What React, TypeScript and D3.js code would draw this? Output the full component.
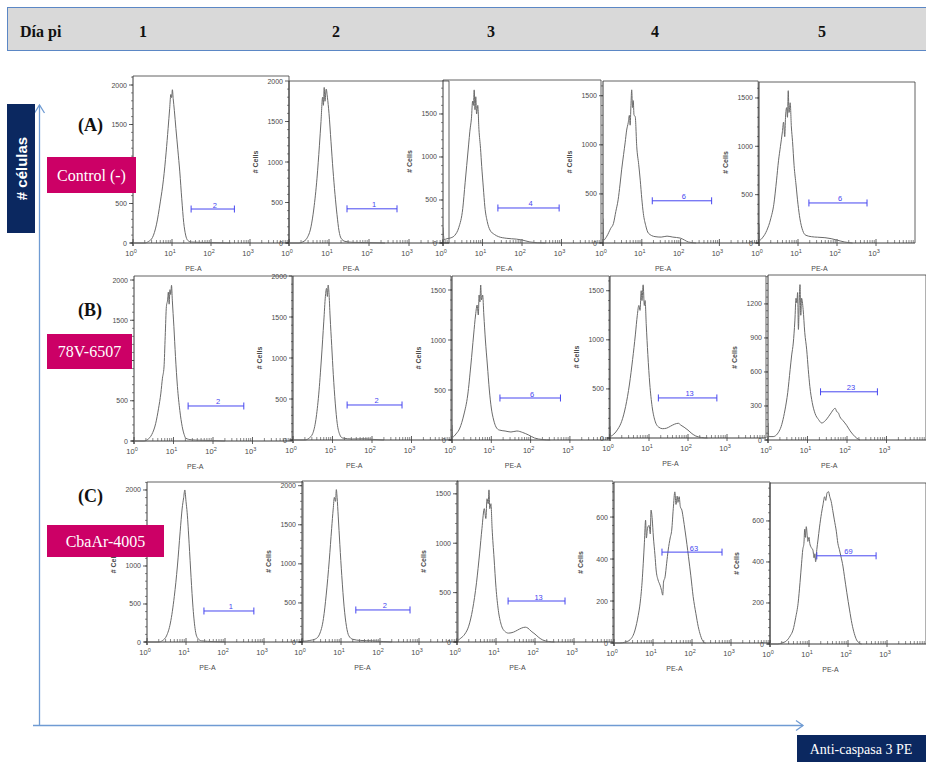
import React from 'react';
import * as d3 from 'd3';

type Pt = [number, number]; // [log10(PE-A), # cells]

// ---------- Control (-) ----------
const controlDay1: Pt[] = [[0,0],[0.3,0],[0.4,20],[0.5,70],[0.6,230],[0.7,520],[0.78,800],[0.85,1150],[0.9,1450],[0.94,1700],[0.97,1880],[0.99,1840],[1.01,1940],[1.03,1830],[1.06,1680],[1.1,1450],[1.15,1180],[1.2,900],[1.25,560],[1.3,260],[1.35,100],[1.4,35],[1.5,12],[1.7,8],[2.0,5],[2.3,2],[2.5,0]];
const controlDay2: Pt[] = [[0,0],[0.25,0],[0.35,15],[0.45,60],[0.55,200],[0.62,420],[0.7,800],[0.76,1200],[0.8,1500],[0.84,1800],[0.86,1700],[0.88,1920],[0.9,1750],[0.93,1900],[0.96,1800],[1.0,1600],[1.05,1250],[1.1,900],[1.15,600],[1.2,350],[1.25,150],[1.3,60],[1.4,20],[1.6,8],[2.0,4],[2.4,0]];
const controlDay3: Pt[] = [[0,180],[0.03,40],[0.1,50],[0.2,60],[0.3,90],[0.4,180],[0.5,400],[0.56,700],[0.6,900],[0.65,1150],[0.68,1300],[0.72,1450],[0.75,1650],[0.77,1600],[0.79,1780],[0.81,1550],[0.83,1700],[0.85,1500],[0.88,1600],[0.91,1320],[0.95,1100],[0.98,890],[1.02,650],[1.06,420],[1.12,250],[1.19,150],[1.3,100],[1.4,75],[1.6,55],[1.86,45],[2.0,35],[2.2,12],[2.4,3],[2.6,0]];
const controlDay4: Pt[] = [[0,250],[0.02,30],[0.1,70],[0.2,150],[0.27,200],[0.33,320],[0.39,440],[0.44,600],[0.48,745],[0.53,900],[0.57,1020],[0.61,1150],[0.65,1225],[0.68,1300],[0.7,1200],[0.72,1400],[0.74,1560],[0.76,1380],[0.78,1450],[0.8,1300],[0.83,1290],[0.87,980],[0.92,800],[0.96,640],[1.0,450],[1.04,300],[1.1,180],[1.17,100],[1.34,65],[1.5,60],[1.65,70],[1.8,60],[1.99,50],[2.1,30],[2.2,10],[2.4,0]];
const controlDay5: Pt[] = [[0,200],[0.02,30],[0.1,60],[0.2,130],[0.3,250],[0.38,400],[0.45,650],[0.5,850],[0.55,1000],[0.6,1150],[0.63,1250],[0.66,1100],[0.68,1300],[0.71,1400],[0.73,1300],[0.75,1575],[0.77,1350],[0.8,1450],[0.83,1200],[0.86,1050],[0.9,800],[0.95,600],[1.0,400],[1.05,250],[1.12,130],[1.2,80],[1.35,65],[1.5,60],[1.69,55],[1.85,45],[2.0,30],[2.2,10],[2.4,0]];

// ---------- 78V-6507 ----------
const v78Day1: Pt[] = [[0,0],[0.25,0],[0.35,20],[0.45,80],[0.55,220],[0.62,400],[0.68,595],[0.72,780],[0.76,920],[0.79,1300],[0.82,1670],[0.85,1750],[0.87,1850],[0.89,1700],[0.91,1880],[0.93,1820],[0.95,1935],[0.97,1750],[1.01,1420],[1.05,1050],[1.1,675],[1.16,380],[1.22,180],[1.27,80],[1.31,35],[1.45,15],[1.65,10],[2.0,5],[2.3,0]];
const v78Day2: Pt[] = [[0,0],[0.3,0],[0.4,20],[0.5,80],[0.58,250],[0.65,550],[0.72,1000],[0.78,1450],[0.82,1750],[0.85,1850],[0.87,1750],[0.89,1890],[0.91,1800],[0.94,1500],[0.98,1150],[1.02,800],[1.07,450],[1.12,200],[1.18,70],[1.25,25],[1.5,12],[1.8,15],[2.0,8],[2.3,0]];
const v78Day3: Pt[] = [[0,150],[0.02,30],[0.1,60],[0.2,120],[0.3,250],[0.4,450],[0.48,750],[0.55,1050],[0.6,1250],[0.64,1350],[0.67,1250],[0.69,1450],[0.71,1380],[0.73,1550],[0.75,1400],[0.78,1450],[0.81,1250],[0.85,1000],[0.9,750],[0.95,500],[1.0,320],[1.06,200],[1.12,130],[1.2,100],[1.35,90],[1.5,80],[1.65,90],[1.8,75],[1.95,50],[2.1,20],[2.3,5],[2.5,0]];
const v78Day4: Pt[] = [[0,120],[0.02,20],[0.1,40],[0.2,90],[0.3,170],[0.4,320],[0.5,550],[0.58,800],[0.65,1050],[0.7,1250],[0.74,1350],[0.77,1300],[0.8,1500],[0.82,1400],[0.85,1560],[0.88,1350],[0.9,1400],[0.93,1150],[0.97,850],[1.02,550],[1.08,320],[1.15,180],[1.25,110],[1.35,95],[1.45,100],[1.55,120],[1.65,140],[1.75,150],[1.82,130],[1.9,110],[2.0,80],[2.1,45],[2.2,20],[2.35,5],[2.5,0]];
const v78Day5: Pt[] = [[0,150],[0.02,30],[0.13,30],[0.3,90],[0.43,265],[0.5,420],[0.56,620],[0.6,750],[0.64,855],[0.68,1050],[0.71,1250],[0.73,1210],[0.75,1300],[0.77,975],[0.79,1200],[0.81,1370],[0.83,1100],[0.85,1250],[0.89,1150],[0.93,950],[0.98,795],[1.02,620],[1.06,470],[1.12,330],[1.19,235],[1.28,180],[1.36,150],[1.45,170],[1.53,205],[1.6,240],[1.66,270],[1.7,280],[1.74,250],[1.78,240],[1.82,205],[1.9,170],[1.99,130],[2.08,80],[2.16,45],[2.25,15],[2.33,0]];

// ---------- CbaAr-4005 ----------
const cbaDay1: Pt[] = [[0,0],[0.3,0],[0.4,20],[0.5,80],[0.6,250],[0.7,600],[0.78,1000],[0.85,1450],[0.9,1750],[0.94,1900],[0.97,2000],[1.0,1850],[1.03,1700],[1.08,1300],[1.13,850],[1.18,450],[1.24,150],[1.3,50],[1.4,15],[1.7,5],[2.0,0]];
const cbaDay2: Pt[] = [[0,30],[0.05,10],[0.2,20],[0.35,40],[0.45,100],[0.55,300],[0.62,600],[0.7,1050],[0.76,1450],[0.8,1700],[0.83,1850],[0.86,1800],[0.88,1950],[0.9,1850],[0.93,1600],[0.97,1250],[1.02,850],[1.08,450],[1.14,200],[1.2,80],[1.3,35],[1.5,20],[1.8,15],[2.1,5],[2.3,0]];
const cbaDay3: Pt[] = [[0,100],[0.02,20],[0.1,40],[0.2,80],[0.3,160],[0.4,330],[0.5,600],[0.58,900],[0.64,1150],[0.7,1350],[0.74,1250],[0.77,1450],[0.8,1400],[0.82,1540],[0.84,1350],[0.87,1400],[0.9,1150],[0.95,850],[1.0,550],[1.06,320],[1.13,180],[1.22,110],[1.32,90],[1.45,100],[1.55,120],[1.65,140],[1.75,150],[1.82,140],[1.9,110],[2.0,80],[2.1,45],[2.2,20],[2.35,5],[2.5,0]];
const cbaDay4: Pt[] = [[0,0],[0.15,0],[0.3,5],[0.41,15],[0.54,62],[0.62,130],[0.67,190],[0.72,290],[0.75,380],[0.78,480],[0.81,585],[0.83,500],[0.86,548],[0.9,560],[0.93,520],[0.95,633],[0.98,590],[1.01,505],[1.05,420],[1.08,348],[1.13,300],[1.18,276],[1.22,250],[1.25,228],[1.27,290],[1.31,315],[1.35,380],[1.39,443],[1.44,500],[1.48,538],[1.52,640],[1.56,720],[1.59,660],[1.62,700],[1.64,670],[1.67,697],[1.7,650],[1.74,633],[1.78,590],[1.82,538],[1.87,470],[1.91,411],[1.97,320],[2.03,221],[2.1,140],[2.16,78],[2.22,35],[2.29,6],[2.35,0]];
const cbaDay5: Pt[] = [[0,0],[0.2,0],[0.3,5],[0.42,15],[0.52,40],[0.59,68],[0.66,130],[0.72,198],[0.77,300],[0.81,394],[0.84,460],[0.87,491],[0.89,560],[0.91,520],[0.93,572],[0.95,540],[0.97,500],[1.0,520],[1.02,491],[1.06,470],[1.1,458],[1.13,420],[1.15,440],[1.17,401],[1.2,460],[1.23,507],[1.27,570],[1.32,637],[1.36,680],[1.4,718],[1.43,700],[1.46,735],[1.5,743],[1.53,720],[1.57,694],[1.61,650],[1.65,605],[1.7,550],[1.74,491],[1.78,460],[1.82,426],[1.87,380],[1.91,328],[1.97,250],[2.04,166],[2.1,100],[2.16,52],[2.22,20],[2.29,5],[2.35,0]];

// Gate percentages (% positive cells), days 1..5
const controlPercent = [2, 1, 4, 6, 6];
const v78Percent = [2, 2, 6, 13, 23];
const cbaPercent = [1, 2, 13, 63, 69];

// Gate bounds: [log10 start, log10 end, count level]
const controlGates: [number, number, number][] = [[1.49, 2.6, 430], [1.45, 2.7, 422], [1.39, 2.94, 407], [1.27, 2.8, 430], [1.28, 2.77, 414]];
const v78Gates: [number, number, number][] = [[1.37, 2.78, 435], [1.37, 2.76, 427], [1.22, 2.76, 420], [1.24, 2.74, 408], [1.33, 2.77, 425]];
const cbaGates: [number, number, number][] = [[1.46, 2.74, 408], [1.38, 2.77, 410], [1.31, 2.77, 415], [1.23, 2.77, 433], [1.2, 2.72, 430]];

// Y-axis extents and tick labels
const controlYMax = [2114, 2000, 1895, 1650, 1665];
const v78YMax = [2050, 2000, 1640, 1650, 1455];
const cbaYMax = [2105, 2060, 1630, 767, 785];
const ticks2000 = [0, 500, 1000, 1500, 2000];
const ticks2000NoMid = [0, 500, 1500, 2000];
const ticks1500 = [0, 500, 1000, 1500];
const ticks1200 = [0, 300, 600, 900, 1200];
const ticks600 = [0, 200, 400, 600];
const controlYTicks = [ticks2000, ticks2000, ticks1500, ticks1500, ticks1500];
const v78YTicks = [ticks2000, ticks2000, ticks1500, ticks1500, ticks1200];
const cbaYTicks = [ticks2000, ticks2000, ticks1500, ticks600, ticks600];
// labelled ticks of the first-column panels sit partly under the sample boxes
const controlYLabels = [ticks2000NoMid, ticks2000, ticks1500, ticks1500, ticks1500];
const v78YLabels = [ticks2000NoMid, ticks2000, ticks1500, ticks1500, ticks1200];

const dayLabels = ['1', '2', '3', '4', '5'];
const xDecades = [0, 1, 2, 3];

// Panel placement: y-axis x, baseline y, frame top y, pixels per decade
type Frame = { ax: number; base: number; top: number; dec: number; yLabel: boolean };
const frames: Frame[][] = [
  [
    { ax: 133, base: 243, top: 76, dec: 39, yLabel: false },
    { ax: 289, base: 243, top: 81, dec: 40, yLabel: true },
    { ax: 443, base: 243, top: 80, dec: 39.5, yLabel: true },
    { ax: 603, base: 243, top: 81, dec: 38.8, yLabel: true },
    { ax: 759, base: 243, top: 82, dec: 39, yLabel: true },
  ],
  [
    { ax: 134, base: 441, top: 276, dec: 39.5, yLabel: false },
    { ax: 293, base: 440, top: 276, dec: 39.5, yLabel: true },
    { ax: 452, base: 440, top: 276, dec: 39.3, yLabel: true },
    { ax: 610, base: 438, top: 276, dec: 39, yLabel: true },
    { ax: 768, base: 440, top: 275, dec: 39.5, yLabel: true },
  ],
  [
    { ax: 147, base: 642, top: 482, dec: 39, yLabel: true },
    { ax: 302, base: 642, top: 481, dec: 39, yLabel: true },
    { ax: 457, base: 642, top: 481, dec: 39, yLabel: true },
    { ax: 614, base: 643, top: 482, dec: 39, yLabel: true },
    { ax: 770, base: 644, top: 483, dec: 39, yLabel: true },
  ],
];

const rows = [
  { letter: '(A)', name: 'Control (-)', days: [controlDay1, controlDay2, controlDay3, controlDay4, controlDay5], pct: controlPercent, gates: controlGates, yMax: controlYMax, yTicks: controlYTicks, yLabels: controlYLabels },
  { letter: '(B)', name: '78V-6507', days: [v78Day1, v78Day2, v78Day3, v78Day4, v78Day5], pct: v78Percent, gates: v78Gates, yMax: v78YMax, yTicks: v78YTicks, yLabels: v78YLabels },
  { letter: '(C)', name: 'CbaAr-4005', days: [cbaDay1, cbaDay2, cbaDay3, cbaDay4, cbaDay5], pct: cbaPercent, gates: cbaGates, yMax: cbaYMax, yTicks: cbaYTicks, yLabels: cbaYTicks },
];

const AXIS = '#3a3a3a';
const TICK_TEXT = '#4a4a4a';
const CURVE = '#6a6a6a';
const GATE = '#4646f0';
const SANS = "'Liberation Sans', Arial, sans-serif";
const SERIF = "'Liberation Serif', 'Times New Roman', serif";

function Histogram({ data, yMax, yTicks, yLabels, gate, pct, frame, id }: {
  data: Pt[]; yMax: number; yTicks: number[]; yLabels: number[]; gate: [number, number, number]; pct: number; frame: Frame; id: string;
}) {
  const { ax, base, top, dec } = frame;
  const right = ax + dec * 4;
  const x = d3.scaleLog().domain([1, 1e4]).range([ax, right]);
  const y = d3.scaleLinear().domain([0, yMax]).range([base, top]);
  const line = d3.line<Pt>().x(d => x(Math.pow(10, d[0]))).y(d => y(d[1])).curve(d3.curveMonotoneX);

  const minorX: number[] = [];
  for (let e = 0; e < 4; e++) for (let m = 2; m <= 9; m++) minorX.push(m * Math.pow(10, e));
  const step = yTicks[1] - yTicks[0];
  const minorY = d3.range(0, yMax, step / 5);
  const g0 = x(Math.pow(10, gate[0]));
  const g1 = x(Math.pow(10, gate[1]));
  const gy = y(gate[2]);

  return (
    <g>
      <clipPath id={id}>
        <rect x={ax} y={top} width={right - ax} height={base - top + 1} />
      </clipPath>
      {/* frame */}
      <line x1={ax} x2={right} y1={top} y2={top} stroke={AXIS} strokeWidth={0.8} />
      <line x1={right} x2={right} y1={top} y2={base} stroke={AXIS} strokeWidth={0.8} />
      <line x1={ax} x2={ax} y1={top} y2={base + 3} stroke={AXIS} strokeWidth={1} />
      <line x1={ax - 3} x2={right} y1={base} y2={base} stroke={AXIS} strokeWidth={1} />
      {/* y ticks */}
      {minorY.map((v, i) => (
        <line key={'ym' + i} x1={ax - 2} x2={ax} y1={y(v)} y2={y(v)} stroke={AXIS} strokeWidth={0.6} />
      ))}
      {yTicks.map(v => (
        <line key={'y' + v} x1={ax - 4} x2={ax} y1={y(v)} y2={y(v)} stroke={AXIS} strokeWidth={0.8} />
      ))}
      {yLabels.map(v => (
        <text key={'yl' + v} x={ax - 6} y={y(v) + 2.5} fontSize={7} fontFamily={SANS} fill={TICK_TEXT} textAnchor="end">{v}</text>
      ))}
      {frame.yLabel && (
        <text transform={`translate(${ax - 31},${(top + base) / 2}) rotate(-90)`} fontSize={7} fontWeight="bold" fontFamily={SANS} fill={TICK_TEXT} textAnchor="middle"># Cells</text>
      )}
      {/* x ticks */}
      {minorX.map((v, i) => (
        <line key={'xm' + i} x1={x(v)} x2={x(v)} y1={base - 3} y2={base} stroke={AXIS} strokeWidth={0.6} />
      ))}
      {xDecades.map(e => (
        <g key={'x' + e}>
          <line x1={x(Math.pow(10, e))} x2={x(Math.pow(10, e))} y1={base - 4} y2={base + 3} stroke={AXIS} strokeWidth={0.8} />
          <text x={x(Math.pow(10, e)) - 2} y={base + 13} fontSize={7.5} fontFamily={SANS} fill={TICK_TEXT} textAnchor="middle">
            10<tspan dy={-3.5} fontSize={5.5}>{e}</tspan>
          </text>
        </g>
      ))}
      <text x={x(Math.pow(10, 1.55))} y={base + 28} fontSize={7} fontFamily={SANS} fill={TICK_TEXT} textAnchor="middle">PE-A</text>
      {/* histogram */}
      <path d={line(data) || ''} fill="none" stroke={CURVE} strokeWidth={1} clipPath={`url(#${id})`} />
      {/* gate */}
      <line x1={g0} x2={g1} y1={gy} y2={gy} stroke={GATE} strokeWidth={1} />
      <line x1={g0} x2={g0} y1={gy - 3.5} y2={gy + 3.5} stroke={GATE} strokeWidth={1} />
      <line x1={g1} x2={g1} y1={gy - 3.5} y2={gy + 3.5} stroke={GATE} strokeWidth={1} />
      <text x={(g0 + g1) / 2 + 2} y={gy - 1.5} fontSize={7.5} fontFamily={SANS} fill={GATE} textAnchor="middle">{pct}</text>
    </g>
  );
}

export default function App() {
  const headerX = [143, 336, 491, 655, 822];
  const letterY = [131, 316, 502];
  const boxes = [
    { x: 47, y: 157, w: 89, h: 36 },
    { x: 47, y: 334, w: 85, h: 35 },
    { x: 47, y: 525, w: 117, h: 32 },
  ];
  const arrow = '#6f9bd3';
  return (
    <svg width={926} height={762} style={{ position: 'absolute', left: 0, top: 0, background: '#fff' }}>
      {/* header band */}
      <rect x={7.5} y={7.5} width={930} height={43} fill="#d9d9d9" stroke="#5b87c5" strokeWidth={1} />
      <text x={20} y={37} fontFamily={SERIF} fontWeight="bold" fontSize={16} fill="#111">Día pi</text>
      {dayLabels.map((d, i) => (
        <text key={d} x={headerX[i]} y={37} fontFamily={SERIF} fontWeight="bold" fontSize={16} fill="#111" textAnchor="middle">{d}</text>
      ))}

      {/* histogram grid */}
      {rows.map((r, ri) => r.days.map((data, di) => (
        <Histogram key={ri + '-' + di} id={`clip-${ri}-${di}`} data={data} yMax={r.yMax[di]} yTicks={r.yTicks[di]}
          yLabels={r.yLabels[di]} gate={r.gates[di]} pct={r.pct[di]} frame={frames[ri][di]} />
      )))}

      {/* axes arrows */}
      <line x1={39.5} x2={39.5} y1={725.5} y2={105} stroke={arrow} strokeWidth={1.3} />
      <polyline points="34.5,113 39.5,105 44.5,113" fill="none" stroke={arrow} strokeWidth={1.3} />
      <line x1={33} x2={803} y1={725.5} y2={725.5} stroke={arrow} strokeWidth={1.3} />
      <polyline points="796,720.5 803,725.5 796,730.5" fill="none" stroke={arrow} strokeWidth={1.3} />

      {/* y-axis caption */}
      <rect x={7} y={104} width={28} height={129} fill="#0b2860" />
      <text transform="translate(26.5,168.5) rotate(-90)" fill="#fff" fontFamily={SANS} fontWeight="bold" fontSize={15} textAnchor="middle"># células</text>

      {/* x-axis caption */}
      <rect x={797} y={735} width={130} height={28} fill="#0b2860" />
      <text x={861} y={754} fill="#fff" fontFamily={SERIF} fontSize={14} textAnchor="middle">Anti-caspasa 3 PE</text>

      {/* row labels */}
      {rows.map((r, ri) => (
        <g key={r.name}>
          <text x={78} y={letterY[ri]} fontFamily={SERIF} fontWeight="bold" fontSize={18} fill="#111">{r.letter}</text>
          <rect x={boxes[ri].x} y={boxes[ri].y} width={boxes[ri].w} height={boxes[ri].h} fill="#cc0066" />
          <text x={boxes[ri].x + boxes[ri].w / 2} y={boxes[ri].y + boxes[ri].h / 2 + 5.5} fill="#fff" fontFamily={SERIF} fontSize={16} textAnchor="middle">{r.name}</text>
        </g>
      ))}
    </svg>
  );
}
